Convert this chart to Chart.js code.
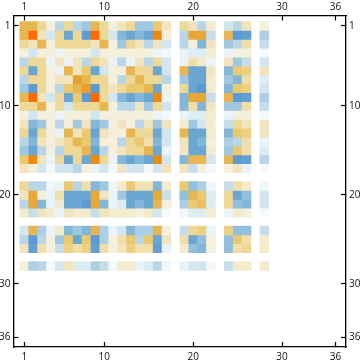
<!DOCTYPE html>
<html>
<head>
<meta charset="utf-8">
<style>
  html, body { margin: 0; padding: 0; background: #fff; }
  canvas { display: block; }
</style>
<script src="https://cdn.jsdelivr.net/npm/chart.js@4"></script>
</head>
<body>
<canvas id="myChart" width="360" height="363"></canvas>
<script>
// filas/columnas que tienen datos (la matriz es 36x36, el resto queda en blanco)
const indices = [1,2,3,4,5,6,7,8,9,10,11,12,13,14,15,16,17,19,20,21,22,24,25,26,28];
const tickLabels = [1, 10, 20, 30, 36];

// valores, negativo = azul, positivo = naranja
const matrix = [
  [5,5,3,1,-3,3,-3,-4,5,3,1,2,3,-4,-4,4,2, 3,2,-3,1.5, -2,-3,2, 1],
  [5,8,2,-2,3,-6,3,-7,8,3,-2,-5,-6,-5,-6,7,1, -3,6,6,-2.5, 5,-7,-6.5, -3.5],
  [3,2,5,1,3,3,3,3,2,5,1,-4,3,2,-3,2,-2, -3,1,-5,2, -4,-3,2.5, -2.5],
  [1,-2,1,1,-1,1,1,1,-2,1,1,1,1,1,1,-1,-0.5, -1,-1.5,-1.5,1.5, -1,1,1, -0.5],
  [-3,3,3,-1,2,-1,2,-3,3,2,-1,-3,-1,2,-3,3,-2, -1,2.5,1.5,-1, 2,-4,-2.5, -2],
  [3,-6,3,1,-1,5,2,4,-6,-2,1,1,5,3,3,-6,-2, 5,-6,-6,2, -5,4,3.5, 2],
  [-3,3,3,1,2,2,6.3,5,3,3,1,-3,3,5,3,3,-3, -4,-6,-6,1.5, -4,-5,2.5, -1.5],
  [-4,-7,3,1,-3,4,5,6.3,-7,3,2,3,4,4,5,-6,1, 3,-6,-7,1.5, -5,4,3.5, -2],
  [5,8,2,-2,3,-6,4,-7,8,3,-2,-5,-6,-5,-6,7,-1, -5,6,6,-2.5, 5,-7,-6.5, -3.5],
  [3,3,5,1,3,-2,3,3,3,5,1,-3,-3,2,-4,3,-2, -5,2.5,-5,2, -4,-4,2.5, -2.5],
  [1,-2,1,1,-1,1,1,1,-2,1,1,1,1,1,1,-1,-0.5, -1,-1.5,-1.5,1.5, -1,1,1, -0.5],
  [2,-5,-4,1,-3,1,-4,2,-5,-4,1,2,1,-3,2,-4,2, 1.5,-4,-2,1.5, -2.5,3,2, 2],
  [3,-6,3,1,-1,5,2,4,-6,2,1,1,5,3,3,-6,-2, 5,-6,-6,1.5, -5,4,3.5, 2],
  [-3,-5,2,1,2,3,5,4,-5,1,1,-3,3,4,2.5,-5,-2, 2,-6,-5,1, -3.5,-3,2.5, -1],
  [-4,-6,-3,1,-3,3,3,5,-6,-3,1,2,3,3,5,-6,-1, 2,-6,-6,1.5, -4,4,2.5, -1.5],
  [4,7,2,-1,3,-6,3,-6,7,3,-1,-5,-6,-5,-6,7,-2, -5,5,5,-2, 5,-7,-6.5, -3],
  [2,1,-2,-0.5,-2,-2,-3,1,-1,-2,-0.5,2,-2,-2,-0.5,-2,2, 2,-2.5,1,-0.5, 1,2,-1, -0.5],
  [3,-3,-3,-0.7,-1,4,-3,2.5,-5,-4,-0.7,1.5,4,2.2,2.2,-5,1.5, 4,-4.5,-3.5,-0.7, -2.5,2.5,1.5, -0.7],
  [2,6,1,-1,2.5,-6,-6,-6,6,2,-1,-4,-6,-6,-6,6,-2.5, -4.5,5,4,-1.5, 3,-6,-4.5, -2],
  [-3,6,-5,-1,1.5,-6,-6,-7,6,-5,-1,-1.5,-6,-5,-6,5,1, -3.5,4,4.5,-1.5, 3,-4.5,-5, -2],
  [1.5,-2.5,2,1.5,-1,2,1.5,1.5,-2.5,2,1.5,1.5,1.5,1,1.5,-2,-0.5, -0.7,-1.5,-1.5,1.5, -1,1.5,1, -0.5],
  [-2,5,-3.5,-1,1.5,-5,-4,-5,5,-3.5,-1,-2,-5,-3.5,-3.5,5,1, -2.5,3,3.5,-1, 3.5,-4.5,-4.5, -2.5],
  [-3,-7,-3,1,-4,4,-6,4,-7,-3.5,1,2.5,4,-3,4,-6,2, 2.5,-6,-4.5,1, -4.5,4,2.5, 1.5],
  [2,-6.5,2.5,1,-2.5,3.5,2.5,3.5,-6.5,2.5,1,2,3.5,2.5,2.5,-6.5,-1, 1.5,-4.5,-5,1, -4.5,2.5,3, 1.5],
  [1,-3.5,-3,-0.5,-2,2,-1.5,-1.5,-3.5,-2.5,-0.5,1.5,1.5,-1,-1.5,-3,-0.7, -1,-2,-2,-0.5, -2.5,1.5,1.5, 1.5]
];

// escala de color por nivel (0..8)
const orangeRamp = ['#ffffff','#f5f0dc','#f2e5bd','#eed896','#ebc96f','#e8b650','#e7a838','#ee8a10','#ff6a00'];
const blueRamp = ['#ffffff','#e9f3f8','#d3e5ef','#b9d6e8','#9fc7df','#84b6d7','#69a6d2','#5b9ad3','#4f8fd0'];

function hexToRgb(h) {
  return [1, 3, 5].map(i => parseInt(h.slice(i, i + 2), 16));
}

function colorFor(v) {
  const ramp = v < 0 ? blueRamp : orangeRamp;
  const a = Math.abs(v);
  const lo = Math.floor(a);
  const hi = Math.min(lo + 1, 8);
  const c1 = hexToRgb(ramp[lo]);
  const c2 = hexToRgb(ramp[hi]);
  const t = a - lo;
  const c = c1.map((x, i) => Math.round(x + (c2[i] - x) * t));
  return `rgb(${c[0]},${c[1]},${c[2]})`;
}

// una serie de barras flotantes por fila
const datasets = matrix.map((fila, r) => ({
  data: fila.map((v, c) => ({ x: indices[c], y: [indices[r] - 0.5, indices[r] + 0.5] })),
  backgroundColor: fila.map(colorFor),
  borderWidth: 0,
  barPercentage: 1,
  categoryPercentage: 1,
  grouped: false
}));

function axis(position, min, max, size, reverse, padding) {
  const horizontal = position === 'top' || position === 'bottom';
  return {
    type: 'linear',
    position: position,
    min: min,
    max: max,
    offset: false,
    reverse: !!reverse,
    afterBuildTicks: scale => { scale.ticks = tickLabels.map(v => ({ value: v })); },
    afterFit: scale => {
      if (horizontal) scale.height = size; else scale.width = size;
    },
    border: { display: true, color: '#000', width: 1.3 },
    grid: {
      offset: false,
      drawOnChartArea: false,
      drawTicks: true,
      tickLength: -5,
      color: '#000',
      tickColor: '#000',
      tickWidth: 1.2
    },
    ticks: {
      autoSkip: false,
      maxRotation: 0,
      color: '#111',
      padding: padding,
      font: { family: 'Open Sans', size: 10 }
    }
  };
}

new Chart(document.getElementById('myChart').getContext('2d'), {
  type: 'bar',
  data: { datasets: datasets },
  options: {
    responsive: false,
    animation: false,
    layout: { padding: 0 },
    plugins: { legend: { display: false }, tooltip: { enabled: false } },
    scales: {
      x: axis('bottom', -0.215, 37.19, 16, false, 9),
      x2: axis('top', -0.215, 37.19, 15.5, false, 7),
      y: axis('left', -0.18, 37.11, 13.5, true, 8),
      y2: axis('right', -0.18, 37.11, 14, true, 8)
    }
  }
});
</script>
</body>
</html>
